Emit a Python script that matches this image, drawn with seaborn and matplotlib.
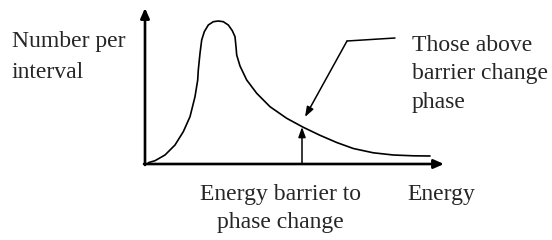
import matplotlib
matplotlib.use("Agg")
import matplotlib.pyplot as plt
import seaborn as sns
import pandas as pd

sns.set_theme(style="white")
plt.rcParams['font.family'] = ['Liberation Serif', 'DejaVu Serif']

# Curve (energy, number per interval), arbitrary units
energy = [3.3, 10, 20, 30, 38.3, 45, 50, 52.7, 53.3, 55, 56.7, 59.3, 63.3, 68.3,
          73.3, 78.3, 83.3, 87.3, 90, 91, 91.7, 95, 101.7, 111.7, 125, 141.7,
          158.3, 175, 191.7, 208.3, 228.3, 248.3, 268.3, 285]
number = [1.3, 3.3, 9, 19, 32.3, 47.3, 67.3, 84, 94, 110.7, 124, 132.3, 139, 142.3,
          143, 142.3, 139, 133.3, 127.3, 117.3, 109, 98, 84, 70.7, 57.3, 45.7,
          36.7, 28.7, 21.5, 15.5, 11.2, 9, 8.2, 8]

barrier_energy = 157
barrier_number = 37

y_label_lines = ["Number per", "interval"]
x_label = "Energy"
barrier_label_lines = ["Energy barrier to", "phase change"]
above_label_lines = ["Those above", "barrier change", "phase"]

df = pd.DataFrame({"energy": energy, "number": number})

fig = plt.figure(figsize=(5.52, 2.4), dpi=100)
ax = fig.add_axes([0, 0, 1, 1])
ax.set_xlim(-145, 407)
ax.set_ylim(-76, 164)
ax.axis("off")

sns.lineplot(data=df, x="energy", y="number", sort=False, estimator=None,
             color="black", lw=1.2, ax=ax, solid_joinstyle="round",
             solid_capstyle="round")

axis_arrow = dict(arrowstyle="-|>,head_length=0.5,head_width=0.22", color="black",
                  lw=1.9, shrinkA=0, shrinkB=0)
ax.annotate("", xy=(0, 156), xytext=(0, -1), arrowprops=axis_arrow)
ax.annotate("", xy=(299, 0), xytext=(-1, 0), arrowprops=axis_arrow)

thin_arrow = dict(arrowstyle="-|>,head_length=0.5,head_width=0.18", color="black",
                  lw=1.1, shrinkA=0, shrinkB=0)
ax.annotate("", xy=(barrier_energy, barrier_number), xytext=(barrier_energy, 0),
            arrowprops=thin_arrow)
ax.plot([250, 202], [126, 123], color="black", lw=1.1)
ax.annotate("", xy=(160, 47), xytext=(202, 123), arrowprops=thin_arrow)

fs = 17
for i, t in enumerate(y_label_lines):
    ax.text(-133.3, 117.3 - 31.5 * i, t, fontsize=fs, ha="left", va="baseline")
for i, t in enumerate(above_label_lines):
    ax.text(266.7, 113 - 28.5 * i, t, fontsize=fs, ha="left", va="baseline")
for i, t in enumerate(barrier_label_lines):
    ax.text(135, -36 - 28.3 * i, t, fontsize=fs, ha="center", va="baseline")
ax.text(262.7, -36, x_label, fontsize=fs, ha="left", va="baseline")

fig.savefig("out.png", dpi=100, facecolor="white")
